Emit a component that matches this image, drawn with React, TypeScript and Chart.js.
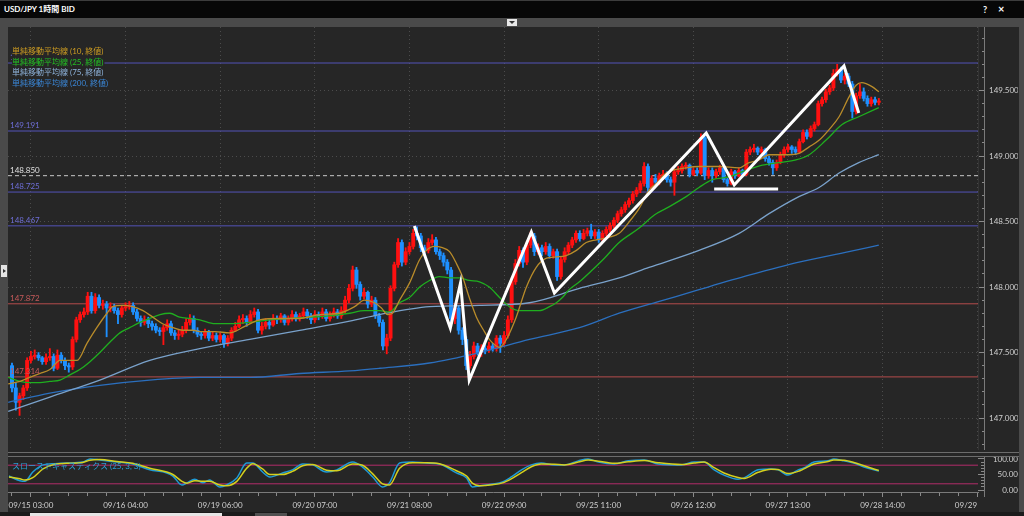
import React, { useEffect, useRef } from "react";
import { Chart, registerables } from "chart.js";

Chart.register(...registerables);

const FONT = "Lato, 'Noto Sans CJK JP', sans-serif";

// ---------------- data ----------------
const chartTitle = "USD/JPY 1時間 BID";
const dateLabels = [
  "09/15 03:00", "09/16 04:00", "09/19 06:00", "09/20 07:00", "09/21 08:00", "09/22 09:00",
  "09/25 11:00", "09/26 12:00", "09/27 13:00", "09/28 14:00", "09/29 15:00",
];
const legendLabels = [
  "単純移動平均線 (10, 終値)",
  "単純移動平均線 (25, 終値)",
  "単純移動平均線 (75, 終値)",
  "単純移動平均線 (200, 終値)",
];
const stochTitle = "スローストキャスティクス (25, 3, 3)";

const firstOpen = 147.4;
const closes = [
  147.23, 147.12, 147.17, 147.23, 147.44, 147.47, 147.48, 147.46, 147.43, 147.46,
  147.47, 147.38, 147.48, 147.44, 147.40, 147.39, 147.60, 147.75, 147.79, 147.81,
  147.93, 147.82, 147.92, 147.86, 147.87, 147.84, 147.85, 147.82, 147.79, 147.84,
  147.85, 147.86, 147.81, 147.76, 147.73, 147.75, 147.72, 147.70, 147.67, 147.66,
  147.69, 147.72, 147.65, 147.63, 147.64, 147.67, 147.73, 147.76, 147.67, 147.64,
  147.63, 147.66, 147.61, 147.63, 147.60, 147.63, 147.57, 147.61, 147.67, 147.70,
  147.75, 147.76, 147.73, 147.79, 147.81, 147.67, 147.70, 147.73, 147.71, 147.76,
  147.75, 147.78, 147.73, 147.76, 147.79, 147.76, 147.78, 147.81, 147.78, 147.75,
  147.79, 147.78, 147.81, 147.76, 147.79, 147.81, 147.78, 147.82, 147.90, 147.99,
  148.13, 148.02, 147.93, 147.96, 147.87, 147.90, 147.78, 147.73, 147.55, 147.61,
  147.99, 148.17, 148.34, 148.19, 148.27, 148.31, 148.41, 148.39, 148.30, 148.28,
  148.34, 148.36, 148.27, 148.24, 148.19, 148.13, 147.76, 147.84, 147.67, 147.60,
  147.40, 147.47, 147.55, 147.50, 147.53, 147.52, 147.55, 147.53, 147.61, 147.57,
  147.63, 147.75, 148.04, 148.18, 148.28, 148.19, 148.32, 148.39, 148.27, 148.30,
  148.27, 148.31, 148.24, 148.27, 148.08, 148.21, 148.27, 148.32, 148.36, 148.41,
  148.37, 148.41, 148.43, 148.39, 148.42, 148.36, 148.41, 148.44, 148.47, 148.51,
  148.56, 148.59, 148.63, 148.66, 148.71, 148.74, 148.79, 148.92, 148.76, 148.83,
  148.80, 148.85, 148.86, 148.82, 148.80, 148.88, 148.89, 148.92, 148.93, 148.86,
  148.89, 148.87, 149.14, 148.85, 148.89, 148.85, 148.88, 148.91, 148.82, 148.79,
  148.88, 148.85, 148.89, 148.86, 149.03, 149.05, 149.06, 149.03, 149.05, 148.98,
  148.95, 148.91, 148.95, 149.01, 149.05, 149.07, 149.05, 149.03, 149.11, 149.18,
  149.15, 149.21, 149.24, 149.40, 149.43, 149.49, 149.52, 149.63, 149.66, 149.58,
  149.61, 149.55, 149.34, 149.46, 149.49, 149.44, 149.40, 149.43, 149.41, 149.42,
];
const highs = [
  147.42, 147.27, 147.19, 147.25, 147.46, 147.51, 147.52, 147.50, 147.47, 147.49,
  147.53, 147.49, 147.52, 147.50, 147.46, 147.42, 147.62, 147.77, 147.81, 147.84,
  147.96, 147.96, 147.95, 147.94, 147.90, 147.89, 147.88, 147.87, 147.84, 147.86,
  147.88, 147.89, 147.88, 147.83, 147.78, 147.78, 147.77, 147.74, 147.72, 147.69,
  147.71, 147.75, 147.74, 147.67, 147.67, 147.70, 147.76, 147.79, 147.78, 147.69,
  147.66, 147.68, 147.67, 147.66, 147.65, 147.65, 147.64, 147.63, 147.69, 147.73,
  147.78, 147.79, 147.78, 147.82, 147.84, 147.83, 147.73, 147.76, 147.75, 147.79,
  147.78, 147.80, 147.79, 147.78, 147.82, 147.81, 147.80, 147.84, 147.83, 147.80,
  147.82, 147.81, 147.84, 147.83, 147.81, 147.84, 147.83, 147.85, 147.93, 148.02,
  148.16, 148.15, 148.04, 147.99, 147.97, 147.93, 147.92, 147.80, 147.75, 147.64,
  148.01, 148.19, 148.37, 148.36, 148.30, 148.34, 148.44, 148.46, 148.41, 148.32,
  148.37, 148.40, 148.38, 148.29, 148.26, 148.21, 148.15, 147.87, 147.86, 147.69,
  147.62, 147.51, 147.58, 147.57, 147.56, 147.56, 147.58, 147.57, 147.63, 147.63,
  147.66, 147.78, 148.07, 148.21, 148.31, 148.30, 148.35, 148.42, 148.41, 148.33,
  148.32, 148.34, 148.33, 148.29, 148.29, 148.23, 148.30, 148.34, 148.38, 148.43,
  148.43, 148.44, 148.45, 148.48, 148.44, 148.44, 148.43, 148.46, 148.49, 148.53,
  148.58, 148.61, 148.65, 148.68, 148.73, 148.76, 148.81, 148.95, 148.94, 148.85,
  148.86, 148.87, 148.89, 148.88, 148.84, 148.90, 148.92, 148.94, 148.95, 148.94,
  148.91, 148.91, 149.17, 149.15, 148.91, 148.91, 148.90, 148.93, 148.92, 148.83,
  148.90, 148.89, 148.91, 148.90, 149.05, 149.07, 149.09, 149.07, 149.07, 149.06,
  149.00, 148.97, 148.97, 149.03, 149.07, 149.09, 149.08, 149.07, 149.13, 149.20,
  149.20, 149.23, 149.26, 149.42, 149.45, 149.51, 149.54, 149.66, 149.70, 149.68,
  149.63, 149.63, 149.57, 149.48, 149.55, 149.52, 149.46, 149.45, 149.45, 149.44,
];
const lows = [
  147.20, 147.06, 147.02, 147.14, 147.21, 147.42, 147.45, 147.44, 147.41, 147.41,
  147.44, 147.36, 147.37, 147.42, 147.37, 147.35, 147.37, 147.58, 147.73, 147.77,
  147.79, 147.80, 147.80, 147.84, 147.83, 147.62, 147.81, 147.80, 147.72, 147.77,
  147.82, 147.83, 147.79, 147.74, 147.70, 147.71, 147.69, 147.67, 147.65, 147.63,
  147.56, 147.67, 147.63, 147.60, 147.60, 147.62, 147.65, 147.71, 147.65, 147.62,
  147.60, 147.61, 147.59, 147.59, 147.58, 147.58, 147.54, 147.55, 147.59, 147.66,
  147.69, 147.72, 147.70, 147.72, 147.77, 147.65, 147.64, 147.68, 147.68, 147.70,
  147.72, 147.73, 147.71, 147.71, 147.74, 147.74, 147.74, 147.76, 147.76, 147.72,
  147.73, 147.75, 147.76, 147.74, 147.74, 147.77, 147.76, 147.76, 147.80, 147.88,
  147.97, 147.99, 147.90, 147.91, 147.84, 147.85, 147.76, 147.70, 147.52, 147.49,
  147.59, 147.97, 148.15, 148.16, 148.17, 148.25, 148.29, 148.36, 148.27, 148.25,
  148.26, 148.32, 148.25, 148.21, 148.16, 148.10, 147.73, 147.72, 147.64, 147.56,
  147.37, 147.38, 147.45, 147.48, 147.47, 147.49, 147.50, 147.51, 147.51, 147.50,
  147.55, 147.61, 147.73, 148.02, 148.16, 148.15, 148.17, 148.30, 148.24, 148.25,
  148.24, 148.25, 148.22, 148.22, 148.05, 148.06, 148.19, 148.25, 148.30, 148.34,
  148.35, 148.36, 148.39, 148.37, 148.37, 148.34, 148.34, 148.39, 148.42, 148.45,
  148.49, 148.54, 148.57, 148.61, 148.64, 148.69, 148.72, 148.77, 148.73, 148.74,
  148.78, 148.78, 148.83, 148.80, 148.77, 148.70, 148.86, 148.87, 148.90, 148.84,
  148.85, 148.85, 148.86, 148.82, 148.83, 148.80, 148.83, 148.86, 148.80, 148.77,
  148.78, 148.83, 148.84, 148.84, 148.85, 149.01, 149.03, 149.01, 149.02, 148.96,
  148.93, 148.86, 148.89, 148.94, 148.99, 149.03, 149.02, 149.01, 149.02, 149.10,
  149.13, 149.14, 149.19, 149.23, 149.38, 149.41, 149.47, 149.50, 149.61, 149.56,
  149.55, 149.53, 149.29, 149.32, 149.44, 149.42, 149.38, 149.38, 149.39, 149.39,
];

// moving averages: [bar index, price]
const ma10 = [
  [-1, 147.26], [2.1, 147.28], [4.7, 147.31], [7.4, 147.34], [10, 147.37], [12.7, 147.44],
  [15.3, 147.44], [17.2, 147.44], [19.8, 147.57], [22.4, 147.69], [25.1, 147.8], [26.6, 147.85],
  [29.3, 147.86], [31.9, 147.85], [34.6, 147.82], [37.2, 147.77], [39.8, 147.72], [42.5, 147.69],
  [45.1, 147.67], [47.8, 147.67], [49.6, 147.66], [53.6, 147.66], [57.5, 147.65], [61.5, 147.7],
  [65.4, 147.75], [70.7, 147.76], [76, 147.76], [81.3, 147.79], [86.5, 147.8], [90.5, 147.85],
  [93.1, 147.9], [95.8, 147.88], [97.6, 147.84], [99.2, 147.79], [100.5, 147.8], [102.4, 147.9],
  [105, 148.03], [107.7, 148.21], [109.5, 148.28], [111.6, 148.31], [113.7, 148.3], [115.6, 148.27],
  [117.4, 148.18], [119, 148.08], [120.8, 147.92], [122.7, 147.77], [124.8, 147.66], [126.1, 147.6],
  [128.8, 147.54], [130.6, 147.6], [133.2, 147.77], [135.9, 148.0], [138.5, 148.15], [141.2, 148.22],
  [143.8, 148.23], [146.4, 148.24], [149.1, 148.28], [151.7, 148.34], [154.4, 148.36], [157.8, 148.38],
  [160.4, 148.41], [163.1, 148.5], [165.7, 148.6], [168.3, 148.74], [170.2, 148.79], [172.8, 148.87],
  [178.1, 148.91], [181.5, 148.92], [186.8, 148.92], [192.1, 148.91], [194.7, 148.95], [197.4, 148.97],
  [200, 149.01], [205.3, 149.01], [207.9, 149.02], [210.6, 149.07], [213.2, 149.12], [215.8, 149.2],
  [218.5, 149.3], [221.1, 149.45], [223, 149.54], [224.5, 149.56], [227.2, 149.53], [229, 149.49],
];
const ma25 = [
  [-1, 147.31], [2.1, 147.28], [4.7, 147.27], [7.4, 147.27], [10, 147.28], [12.7, 147.29],
  [15.3, 147.33], [17.9, 147.37], [20.6, 147.43], [23.2, 147.5], [25.9, 147.58], [28.5, 147.65],
  [31.1, 147.69], [33.8, 147.73], [36.4, 147.76], [39.1, 147.79], [41.7, 147.8], [44.3, 147.77],
  [47, 147.76], [49.6, 147.75], [53.6, 147.72], [57.5, 147.72], [62.8, 147.73], [68.1, 147.75],
  [73.4, 147.76], [78.6, 147.77], [83.9, 147.78], [89.2, 147.8], [93.1, 147.82], [97.1, 147.82],
  [99.7, 147.81], [102.4, 147.88], [105, 147.92], [107.7, 148.0], [110.3, 148.05], [112.9, 148.08],
  [115.6, 148.07], [118.2, 148.07], [120.8, 148.05], [123.5, 148.04], [126.1, 148.0], [128.8, 147.92],
  [131.4, 147.85], [134, 147.82], [136.7, 147.82], [139.3, 147.82], [142, 147.85], [143.8, 147.88],
  [145.4, 147.92], [147.2, 147.98], [149.9, 148.04], [153.3, 148.13], [156.5, 148.22], [160.4, 148.34],
  [165.7, 148.45], [169.7, 148.55], [172.8, 148.6], [178.1, 148.69], [181.5, 148.76], [185, 148.82],
  [189.4, 148.84], [193.9, 148.89], [198.2, 148.93], [202.6, 148.95], [207.1, 148.97], [210.6, 149.01],
  [215, 149.12], [219.3, 149.24], [223.7, 149.3], [229, 149.37],
];
const ma75 = [
  [-1, 147.05], [10, 147.16], [23.2, 147.29], [36.4, 147.44], [49.6, 147.53], [62.8, 147.6],
  [76, 147.67], [89.2, 147.74], [97.1, 147.79], [110.3, 147.85], [123.5, 147.86], [136.7, 147.88],
  [149.9, 147.99], [160.4, 148.07], [168.3, 148.15], [181.5, 148.28], [192.1, 148.41], [200, 148.56],
  [207.9, 148.69], [213.2, 148.76], [218.5, 148.87], [223.7, 148.95], [229, 149.01],
];
const ma200 = [
  [-1, 147.12], [10, 147.19], [23.2, 147.25], [36.4, 147.29], [49.6, 147.31], [62.8, 147.31],
  [76, 147.34], [89.2, 147.36], [97.1, 147.38], [110.3, 147.42], [123.5, 147.5], [136.7, 147.6],
  [149.9, 147.69], [160.4, 147.8], [171, 147.89], [181.5, 147.98], [194.7, 148.09], [207.9, 148.19],
  [221.1, 148.27], [229, 148.32],
];

const upperLevels = [149.71, 149.191, 148.725, 148.467];
const lowerLevels = [147.872, 147.314];
const markedLevel = 148.85;

// hand-drawn trend lines: [bar index, price]
const zigzag = [
  [106.3, 148.466], [115.8, 147.687], [118.5, 148.031], [120.8, 147.29], [137.2, 148.42],
  [143.3, 147.954], [183.4, 149.176], [190.8, 148.779], [219.8, 149.687], [223.7, 149.328],
];
const supportSegment = [[185.5, 148.748], [202.4, 148.748]];

// slow stochastics: [bar index, value]
const stochK = [
  [-0.8, 45], [2.1, 30], [3.4, 28], [5.5, 58], [8.2, 81], [11.3, 85], [14.5, 87], [18.7, 90], [20.6, 100],
  [23.2, 97], [27.7, 90], [31.9, 84], [36.4, 65], [40.9, 55], [42.5, 45], [44.9, 16], [46.2, 23], [48.3, 35],
  [50.4, 23], [52.2, 32], [54.9, 10], [56.7, 16], [59.4, 39], [62, 87], [63.6, 87], [66.2, 58], [68.1, 42],
  [71.5, 55], [74.1, 65], [76.8, 84], [79.4, 81], [83.1, 58], [85.8, 65], [90, 90], [92.6, 74], [95.3, 42],
  [97.9, 10], [99.7, 23], [102.4, 87], [105.8, 90], [109.5, 87], [112.9, 84], [117.4, 55], [120.1, 39],
  [121.6, 10], [123.5, 13], [126.9, 19], [129.6, 26], [131.9, 42], [134.6, 65], [137.2, 81], [139.8, 87],
  [143.3, 81], [145.9, 81], [149.6, 94], [152.2, 100], [154.9, 90], [159.1, 84], [162.8, 94], [167, 97],
  [170.7, 84], [176.8, 81], [180.2, 90], [182.8, 90], [185.5, 65], [188.1, 48], [191.8, 35], [193.4, 39],
  [197.1, 65], [200.5, 68], [202.4, 65], [205, 48], [207.7, 65], [209.2, 71], [211.9, 90], [215.6, 94],
  [217.1, 100], [219.8, 94], [222.4, 87], [225.1, 74], [229, 61],
];
const stochD = [
  [-0.8, 42], [2.1, 36], [3.4, 32], [5.5, 40], [8.2, 68], [11.3, 83], [14.5, 86], [18.7, 89], [20.6, 96],
  [23.2, 98], [27.7, 92], [31.9, 86], [36.4, 70], [40.9, 58], [42.5, 50], [44.9, 28], [46.2, 22], [48.3, 30],
  [50.4, 28], [52.2, 28], [54.9, 16], [56.7, 14], [59.4, 28], [62, 70], [63.6, 85], [66.2, 68], [68.1, 50],
  [71.5, 50], [74.1, 60], [76.8, 78], [79.4, 82], [83.1, 64], [85.8, 62], [90, 84], [92.6, 80], [95.3, 52],
  [97.9, 20], [99.7, 16], [102.4, 70], [105.8, 88], [109.5, 88], [112.9, 85], [117.4, 62], [120.1, 45],
  [121.6, 22], [123.5, 14], [126.9, 17], [129.6, 23], [131.9, 36], [134.6, 56], [137.2, 75], [139.8, 84],
  [143.3, 83], [145.9, 81], [149.6, 90], [152.2, 97], [154.9, 93], [159.1, 86], [162.8, 91], [167, 95],
  [170.7, 88], [176.8, 82], [180.2, 87], [182.8, 90], [185.5, 72], [188.1, 55], [191.8, 40], [193.4, 37],
  [197.1, 57], [200.5, 67], [202.4, 66], [205, 53], [207.7, 60], [209.2, 68], [211.9, 84], [215.6, 92],
  [217.1, 97], [219.8, 96], [222.4, 89], [225.1, 78], [229, 63],
];
const stochBands = [80, 20];

// ---------------- styling / layout ----------------
const BG = "#262626";
const GRID = "#4c4c4c";
const UP = "#ff1010";
const DOWN = "#1e90ff";
const X_MIN = -1.055;
const X_MAX = 255.2;
const Y_MIN = 146.756;
const Y_MAX = 149.985;
const S_MIN = -6.45;
const S_MAX = 106.45;

const isMajorX = (v: number) => v >= 5 && Math.abs((v - 5) % 25) < 1e-6;
const isHalf = (v: number) => Math.abs(v * 2 - Math.round(v * 2)) < 1e-6;
const pts = (arr: number[][]) => arr.map(([x, y]) => ({ x, y }));
const flat = (v: number) => [{ x: X_MIN, y: v }, { x: X_MAX, y: v }];

function lineDs(data: any[], color: string, width: number, order: number, extra: any = {}) {
  return {
    type: "line",
    data,
    borderColor: color,
    borderWidth: width,
    pointRadius: 0,
    fill: false,
    order,
    ...extra,
  };
}

function mainConfig(): any {
  const opens = closes.map((c, i) => (i === 0 ? firstOpen : closes[i - 1]));
  const colors = closes.map((c, i) => (c >= opens[i] ? UP : DOWN));
  const datasets: any[] = [];
  upperLevels.forEach((v) => datasets.push(lineDs(flat(v), "#5353b8", 1, 30)));
  lowerLevels.forEach((v) => datasets.push(lineDs(flat(v), "#b44c4c", 1, 30)));
  datasets.push(lineDs(flat(markedLevel), "#c8c8c8", 1, 30, { borderDash: [4, 3] }));
  datasets.push({
    type: "bar",
    data: closes.map((c, i) => ({ x: i, y: [lows[i], highs[i]] })),
    backgroundColor: colors,
    borderWidth: 0,
    grouped: false,
    barPercentage: 1,
    categoryPercentage: 1,
    maxBarThickness: 1.2,
    order: 21,
  });
  datasets.push({
    type: "bar",
    data: closes.map((c, i) => ({ x: i, y: [opens[i], c] })),
    backgroundColor: colors,
    borderWidth: 0,
    grouped: false,
    barPercentage: 1,
    categoryPercentage: 1,
    maxBarThickness: 3.3,
    minBarLength: 1,
    order: 20,
  });
  const smooth = { cubicInterpolationMode: "monotone" };
  datasets.push(lineDs(pts(ma200), "#2b6fbe", 1.3, 12, smooth));
  datasets.push(lineDs(pts(ma75), "#7aa2cb", 1.3, 11, smooth));
  datasets.push(lineDs(pts(ma25), "#1fae1f", 1.3, 10, smooth));
  datasets.push(lineDs(pts(ma10), "#b98c2a", 1.3, 9, smooth));
  datasets.push(lineDs(pts(zigzag), "#ffffff", 3, 1, { borderJoinStyle: "miter", tension: 0 }));
  datasets.push(lineDs(pts(supportSegment), "#ffffff", 3, 1));

  const decor = {
    id: "mainDecor",
    beforeDraw(chart: any) {
      const { ctx, width, height } = chart;
      ctx.save();
      ctx.fillStyle = BG;
      ctx.fillRect(0, 0, width, height);
      ctx.restore();
    },
    afterDraw(chart: any) {
      const { ctx, chartArea, scales } = chart;
      const y = scales.y;
      ctx.save();
      ctx.strokeStyle = "#7a7a7a";
      ctx.lineWidth = 1;
      ctx.beginPath();
      ctx.moveTo(Math.round(chartArea.right) + 6.5, chartArea.top);
      ctx.lineTo(Math.round(chartArea.right) + 6.5, chartArea.bottom);
      ctx.stroke();

      ctx.font = `8px ${FONT}`;
      ctx.textAlign = "left";
      ctx.textBaseline = "alphabetic";
      const lbl = (v: number, c: string) => {
        ctx.fillStyle = c;
        ctx.fillText(v.toFixed(3), chartArea.left + 2, y.getPixelForValue(v) - 3);
      };
      upperLevels.forEach((v) => lbl(v, "#6e6ed6"));
      lowerLevels.forEach((v) => lbl(v, "#c65a5a"));
      lbl(markedLevel, "#e0e0e0");

      const legendColors = ["#d09e22", "#24c024", "#8fb4dc", "#3a86d6"];
      ctx.textBaseline = "middle";
      legendLabels.forEach((t, k) => {
        const cy = 24.5 + k * 10.7;
        const w = ctx.measureText(t).width;
        ctx.fillStyle = BG;
        ctx.fillRect(chartArea.left + 4, cy - 5.5, w + 1, 11);
        ctx.fillStyle = legendColors[k];
        ctx.fillText(t, chartArea.left + 4, cy);
      });
      ctx.restore();
    },
  };

  return {
    type: "bar",
    data: { datasets },
    plugins: [decor],
    options: {
      animation: false,
      responsive: false,
      maintainAspectRatio: false,
      events: [],
      layout: { padding: 0 },
      plugins: { legend: { display: false }, tooltip: { enabled: false } },
      scales: {
        x: {
          type: "linear",
          min: X_MIN,
          max: X_MAX,
          offset: false,
          ticks: { display: false, stepSize: 5, precision: 0, includeBounds: false, autoSkip: false },
          grid: {
            offset: false,
            drawTicks: false,
            color: (c: any) => (c.tick && isMajorX(c.tick.value) ? GRID : "transparent"),
          },
          border: { display: false, dash: [1, 3] },
          afterFit: (s: any) => {
            s.height = 0;
            s.paddingLeft = 0;
            s.paddingRight = 0;
          },
        },
        y: {
          type: "linear",
          position: "right",
          min: Y_MIN,
          max: Y_MAX,
          ticks: {
            stepSize: 0.1,
            precision: 1,
            includeBounds: false,
            autoSkip: false,
            color: "#cfcfcf",
            padding: 5,
            font: { family: FONT, size: 8 },
            callback: (v: any) => (isHalf(Number(v)) ? Number(v).toFixed(3) : ""),
          },
          grid: {
            color: (c: any) => (c.tick && isHalf(c.tick.value) ? GRID : "transparent"),
            tickLength: 6,
            tickColor: "#8a8a8a",
            tickBorderDash: (c: any) => (c.tick && isHalf(c.tick.value) ? [] : [0, 3, 3, 100]),
          },
          border: { display: true, color: "#333333", dash: [1, 3] },
          afterFit: (s: any) => {
            s.width = 40;
            s.paddingTop = 0;
            s.paddingBottom = 0;
          },
        },
      },
    },
  };
}

function stochConfig(): any {
  const datasets: any[] = [];
  stochBands.forEach((v) => datasets.push(lineDs(flat(v), "#b22c6a", 1, 10)));
  datasets.push(lineDs(pts(stochK), "#1f9bd6", 1.5, 3, { cubicInterpolationMode: "monotone" }));
  datasets.push(lineDs(pts(stochD), "#d4d01e", 1.5, 2, { cubicInterpolationMode: "monotone" }));

  const decor = {
    id: "stochDecor",
    beforeDraw(chart: any) {
      const { ctx, width, height } = chart;
      ctx.save();
      ctx.fillStyle = BG;
      ctx.fillRect(0, 0, width, height);
      ctx.restore();
    },
    afterDraw(chart: any) {
      const { ctx, chartArea, width, height } = chart;
      ctx.save();
      ctx.fillStyle = BG;
      ctx.fillRect(chartArea.right + 0.5, chartArea.bottom + 1, width - chartArea.right, height - chartArea.bottom);
      ctx.strokeStyle = "#7a7a7a";
      ctx.lineWidth = 1;
      ctx.beginPath();
      ctx.moveTo(Math.round(chartArea.right) + 6.5, chartArea.top);
      ctx.lineTo(Math.round(chartArea.right) + 6.5, chartArea.bottom + 5);
      ctx.stroke();
      ctx.font = `8px ${FONT}`;
      ctx.textAlign = "left";
      ctx.textBaseline = "middle";
      ctx.fillStyle = "#28a0d8";
      ctx.fillText(stochTitle, chartArea.left + 4, 9.5);
      ctx.restore();
    },
  };

  return {
    type: "line",
    data: { datasets },
    plugins: [decor],
    options: {
      animation: false,
      responsive: false,
      maintainAspectRatio: false,
      events: [],
      layout: { padding: 0 },
      plugins: { legend: { display: false }, tooltip: { enabled: false } },
      scales: {
        x: {
          type: "linear",
          min: X_MIN,
          max: X_MAX,
          offset: false,
          ticks: {
            stepSize: 5,
            precision: 0,
            includeBounds: false,
            autoSkip: false,
            maxRotation: 0,
            minRotation: 0,
            color: "#cfcfcf",
            padding: 4,
            font: { family: FONT, size: 8 },
            callback: (v: any) => (isMajorX(Number(v)) ? dateLabels[Math.round((Number(v) - 5) / 25)] : ""),
          },
          grid: {
            offset: false,
            drawOnChartArea: false,
            tickLength: 5,
            tickColor: "#8a8a8a",
            tickBorderDash: (c: any) => (c.tick && isMajorX(c.tick.value) ? [] : [3, 100]),
          },
          border: { display: true, color: "#7a7a7a" },
          afterFit: (s: any) => {
            s.height = 20;
            s.paddingLeft = 0;
            s.paddingRight = 0;
          },
        },
        y: {
          type: "linear",
          position: "right",
          min: S_MIN,
          max: S_MAX,
          ticks: {
            stepSize: 10,
            precision: 0,
            includeBounds: false,
            autoSkip: false,
            color: "#cfcfcf",
            padding: 3,
            crossAlign: "far",
            font: { family: FONT, size: 8 },
            callback: (v: any) => (Math.round(Number(v)) % 50 === 0 ? Number(v).toFixed(2) : ""),
          },
          grid: {
            color: "transparent",
            tickLength: 6,
            tickColor: "#8a8a8a",
            tickBorderDash: (c: any) => (c.tick && Math.round(c.tick.value) % 50 === 0 ? [] : [0, 3, 3, 100]),
          },
          border: { display: false },
          afterFit: (s: any) => {
            s.width = 40;
            s.paddingTop = 0;
            s.paddingBottom = 0;
          },
        },
      },
    },
  };
}

export default function App() {
  const mainRef = useRef<HTMLCanvasElement>(null);
  const stochRef = useRef<HTMLCanvasElement>(null);

  useEffect(() => {
    const main = new Chart(mainRef.current as HTMLCanvasElement, mainConfig());
    const stoch = new Chart(stochRef.current as HTMLCanvasElement, stochConfig());
    return () => {
      main.destroy();
      stoch.destroy();
    };
  }, []);

  const abs = (s: any) => ({ position: "absolute", ...s } as React.CSSProperties);

  return (
    <div style={abs({ position: "fixed", left: 0, top: 0, width: 1024, height: 516, background: BG, overflow: "hidden", fontFamily: FONT })}>
      {/* title bar */}
      <div style={abs({ left: 0, top: 0, width: 1024, height: 18, background: "#070707", borderTop: "1px solid #3c3c3c", boxSizing: "border-box" })}>
        <span style={abs({ left: 4, top: 3, color: "#ffffff", fontSize: 8, fontWeight: 700, lineHeight: "11px", whiteSpace: "nowrap" })}>{chartTitle}</span>
        <span style={abs({ left: 983, top: 3, color: "#ffffff", fontSize: 9, fontWeight: 700, lineHeight: "11px" })}>?</span>
        <span style={abs({ left: 998, top: 2, color: "#ffffff", fontSize: 11, fontWeight: 700, lineHeight: "12px" })}>×</span>
      </div>
      {/* top gray band */}
      <div style={abs({ left: 0, top: 18, width: 1024, height: 9, background: "#4a4a4a" })} />
      <div style={abs({ left: 507, top: 19, width: 10, height: 7, background: "#e8e8e8" })}>
        <div style={abs({ left: 2, top: 2, width: 0, height: 0, borderLeft: "3px solid transparent", borderRight: "3px solid transparent", borderTop: "3px solid #333" })} />
      </div>
      {/* left strip */}
      <div style={abs({ left: 0, top: 27, width: 8, height: 485, background: "#4a4a4a" })} />
      <div style={abs({ left: 1, top: 265, width: 6, height: 12, background: "#e4e4e4" })}>
        <div style={abs({ left: 2, top: 4, width: 0, height: 0, borderTop: "2px solid transparent", borderBottom: "2px solid transparent", borderLeft: "3px solid #333" })} />
      </div>
      {/* right strip */}
      <div style={abs({ left: 1019, top: 27, width: 5, height: 485, background: "#4a4a4a" })} />

      <canvas ref={mainRef} width={1010} height={423} style={abs({ left: 8, top: 27, width: 1010, height: 423 })} />

      {/* panel separators */}
      <div style={abs({ left: 8, top: 452, width: 1011, height: 1, background: "#6c6c6c" })} />
      <div style={abs({ left: 8, top: 456, width: 1011, height: 1, background: "#6c6c6c" })} />

      <canvas ref={stochRef} width={1010} height={55} style={abs({ left: 8, top: 457, width: 1010, height: 55 })} />

      {/* bottom scroll bar */}
      <div style={abs({ left: 0, top: 512, width: 1024, height: 4, background: "#1b1b1b" })} />
      <div style={abs({ left: 30, top: 513, width: 192, height: 3, background: "#e6e6e6" })} />
      <div style={abs({ left: 255, top: 513, width: 32, height: 3, background: "#505050" })} />
    </div>
  );
}
